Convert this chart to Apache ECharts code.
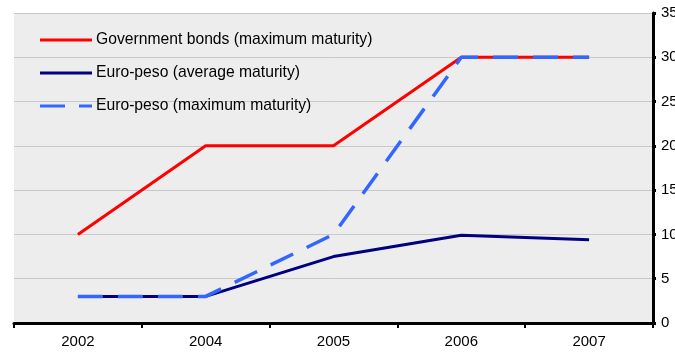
<!DOCTYPE html>
<html>
<head>
<meta charset="utf-8">
<script src="https://cdn.jsdelivr.net/npm/echarts@6/dist/echarts.min.js"></script>
<style>
  html, body { margin: 0; padding: 0; background: #ffffff; }
  #chart { width: 675px; height: 356px; }
</style>
</head>
<body>
<div id="chart"></div>
<script>
// Years on the horizontal axis
const years = ['2002', '2004', '2005', '2006', '2007'];
// Maturities in years
const govBondsMax = [10, 20, 20, 30, 30];
const euroPesoAvg = [3, 3, 7.5, 9.9, 9.4];
const euroPesoMax = [3, 3, 10, 30, 30];
// Right-hand axis
const yMin = 0, yMax = 35, yStep = 5;

const chart = echarts.init(document.getElementById('chart'));
const font = 'Liberation Sans, Arial, sans-serif';

// Legend keys: a solid bar, and a long/short dash pair for the dashed series
const solidKey = 'path://M0,0H52V3H0Z';
const dashedKey = 'path://M0,0H25V3H0Z M39,0H52V3H39Z';

chart.setOption({
  animation: false,
  backgroundColor: '#ffffff',
  grid: {
    left: 14, right: 22, top: 13, bottom: 33,
    containLabel: false,
    outerBoundsMode: 'none',
    show: true, backgroundColor: '#ededed', borderWidth: 0
  },
  legend: {
    orient: 'vertical',
    left: 40, top: 32, padding: 0,
    itemWidth: 52, itemHeight: 3, itemGap: 17,
    symbolKeepAspect: false,
    textStyle: { fontFamily: font, fontSize: 15.7, color: '#000', padding: [0, 0, 0, -1] },
    data: [
      { name: 'Government bonds (maximum maturity)', icon: solidKey, itemStyle: { color: '#ff0000' } },
      { name: 'Euro-peso (average maturity)', icon: solidKey, itemStyle: { color: '#000080' } },
      { name: 'Euro-peso (maximum maturity)', icon: dashedKey, itemStyle: { color: '#3366ff' } }
    ]
  },
  xAxis: {
    type: 'category',
    data: years,
    boundaryGap: true,
    axisLine: { show: true, lineStyle: { color: '#000', width: 3 } },
    axisTick: { show: true, length: 5, lineStyle: { color: '#000', width: 2 } },
    axisLabel: { fontFamily: font, fontSize: 15, color: '#000', margin: 11 },
    splitLine: { show: false }
  },
  yAxis: {
    type: 'value',
    position: 'right',
    min: yMin, max: yMax, interval: yStep,
    axisLine: { show: true, lineStyle: { color: '#000', width: 3 } },
    axisTick: { show: true, length: 3, lineStyle: { color: '#000', width: 3 } },
    axisLabel: { fontFamily: font, fontSize: 15, color: '#000', margin: 8 },
    splitLine: { show: true, lineStyle: { color: '#c8c8c8', width: 1 } }
  },
  series: [
    {
      name: 'Government bonds (maximum maturity)',
      type: 'line', data: govBondsMax, symbol: 'none', color: '#ff0000',
      lineStyle: { color: '#ff0000', width: 3 }
    },
    {
      name: 'Euro-peso (average maturity)',
      type: 'line', data: euroPesoAvg, symbol: 'none', color: '#000080',
      lineStyle: { color: '#000080', width: 3 }
    },
    {
      name: 'Euro-peso (maximum maturity)',
      type: 'line', data: euroPesoMax, symbol: 'none', color: '#3366ff',
      lineStyle: { color: '#3366ff', width: 3.5, type: [25, 15] }
    }
  ]
});
</script>
</body>
</html>
